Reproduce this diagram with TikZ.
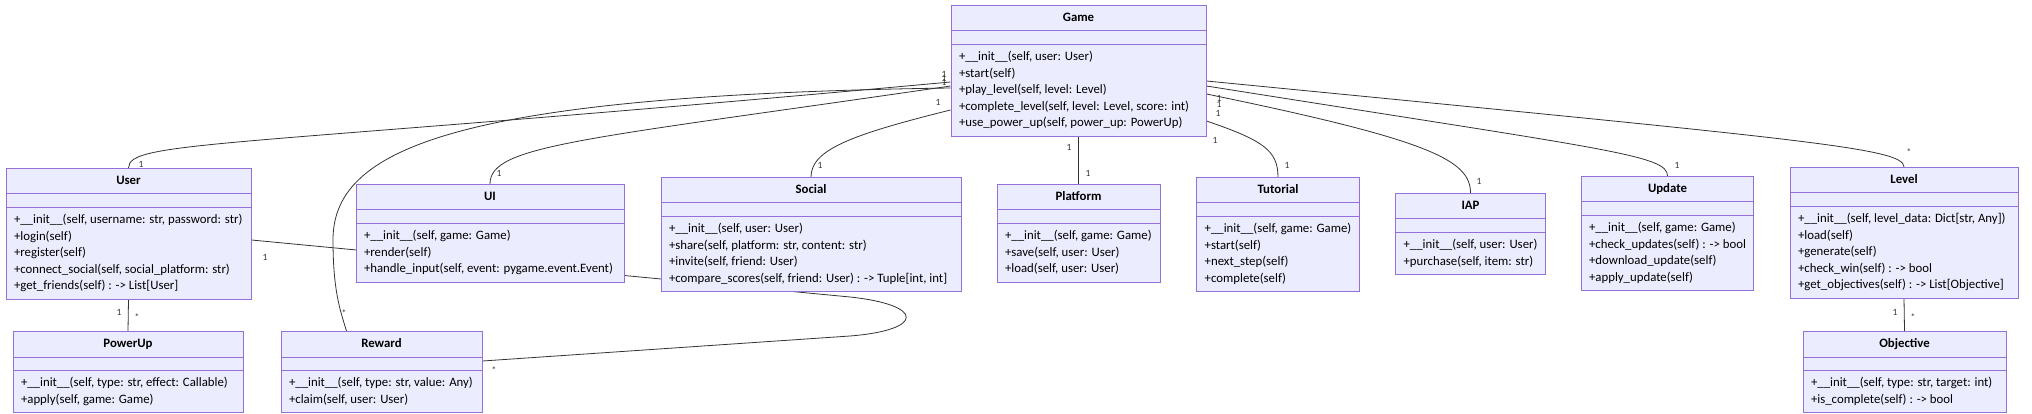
\documentclass[tikz,border=0pt]{standalone}
\usepackage{fontspec}
\setmainfont{Carlito}
\usetikzlibrary{shapes.multipart, backgrounds, calc}

\definecolor{classfill}{HTML}{ECECFF}
\definecolor{classedge}{HTML}{9370DB}
\definecolor{linkgray}{HTML}{333333}

\newcommand{\ops}[1]{\begin{tabular}{@{}l@{}}#1\end{tabular}}
\newcommand{\cname}[1]{\textbf{#1}\strut}

\tikzset{
  umlclass/.style={rectangle split, rectangle split parts=3,
    draw=classedge, fill=classfill, line width=1pt,
    inner xsep=8pt, inner ysep=4pt,
    rectangle split part align={center,left,left},
    rectangle split empty part height=3pt,
    font=\fontsize{12.8pt}{16.5pt}\selectfont, anchor=north},
  link/.style={draw=linkgray, line width=0.8pt},
  mult/.style={font=\fontsize{9.5pt}{10pt}\selectfont, text=linkgray, inner sep=0pt},
}

\begin{document}
\begin{tikzpicture}[x=1pt, y=-1pt]
\useasboundingbox (0,0) rectangle (2032,414);

% classes
\node[umlclass, minimum width=255] (game) at (1078.5,5)
  {\cname{Game}\nodepart{second}\nodepart{third}\ops{+\_\_init\_\_(self, user: User)\\+start(self)\\+play\_level(self, level: Level)\\+complete\_level(self, level: Level, score: int)\\+use\_power\_up(self, power\_up: PowerUp)}};
\node[umlclass, minimum width=245] (user) at (128.5,168)
  {\cname{User}\nodepart{second}\nodepart{third}\ops{+\_\_init\_\_(self, username: str, password: str)\\+login(self)\\+register(self)\\+connect\_social(self, social\_platform: str)\\+get\_friends(self) : -> List[User]}};
\node[umlclass, minimum width=268] (ui) at (490,184)
  {\cname{UI}\nodepart{second}\nodepart{third}\ops{+\_\_init\_\_(self, game: Game)\\+render(self)\\+handle\_input(self, event: pygame.event.Event)}};
\node[umlclass, minimum width=300] (social) at (811,177)
  {\cname{Social}\nodepart{second}\nodepart{third}\ops{+\_\_init\_\_(self, user: User)\\+share(self, platform: str, content: str)\\+invite(self, friend: User)\\+compare\_scores(self, friend: User) : -> Tuple[int, int]}};
\node[umlclass, minimum width=163] (platform) at (1078.5,184)
  {\cname{Platform}\nodepart{second}\nodepart{third}\ops{+\_\_init\_\_(self, game: Game)\\+save(self, user: User)\\+load(self, user: User)}};
\node[umlclass, minimum width=162] (tutorial) at (1278,177)
  {\cname{Tutorial}\nodepart{second}\nodepart{third}\ops{+\_\_init\_\_(self, game: Game)\\+start(self)\\+next\_step(self)\\+complete(self)}};
\node[umlclass, minimum width=149] (iap) at (1470.5,193)
  {\cname{IAP}\nodepart{second}\nodepart{third}\ops{+\_\_init\_\_(self, user: User)\\+purchase(self, item: str)}};
\node[umlclass, minimum width=171] (update) at (1667.5,176)
  {\cname{Update}\nodepart{second}\nodepart{third}\ops{+\_\_init\_\_(self, game: Game)\\+check\_updates(self) : -> bool\\+download\_update(self)\\+apply\_update(self)}};
\node[umlclass, minimum width=228] (level) at (1904,167)
  {\cname{Level}\nodepart{second}\nodepart{third}\ops{+\_\_init\_\_(self, level\_data: Dict[str, Any])\\+load(self)\\+generate(self)\\+check\_win(self) : -> bool\\+get\_objectives(self) : -> List[Objective]}};
\node[umlclass, minimum width=230] (powerup) at (128,331)
  {\cname{PowerUp}\nodepart{second}\nodepart{third}\ops{+\_\_init\_\_(self, type: str, effect: Callable)\\+apply(self, game: Game)}};
\node[umlclass, minimum width=201] (reward) at (381.5,331)
  {\cname{Reward}\nodepart{second}\nodepart{third}\ops{+\_\_init\_\_(self, type: str, value: Any)\\+claim(self, user: User)}};
\node[umlclass, minimum width=203] (objective) at (1904.5,331)
  {\cname{Objective}\nodepart{second}\nodepart{third}\ops{+\_\_init\_\_(self, type: str, target: int)\\+is\_complete(self) : -> bool}};

% associations
\begin{scope}[on background layer]
  \draw[link] ($(game.north west)+(0,77)$) .. controls (230,148) and (128.5,140) .. (user.north);
  \draw[link] ($(game.north west)+(0,81)$) .. controls (580,140) and (490,145) .. (ui.north);
  \draw[link] ($(game.north west)+(0,83)$) .. controls (450,95) and (333,150) .. (333,240)
    .. controls (333,290) and (340,310) .. ($(reward.north)+(-35,0)$);
  \draw[link] ($(game.north west)+(0,105)$) .. controls (850,135) and (811,150) .. (social.north);
  \draw[link] (game.south) -- (platform.north);
  \draw[link] ($(game.north east)+(0,116)$) .. controls (1262,140) and (1278,150) .. (tutorial.north);
  \draw[link] ($(game.north east)+(0,89)$) .. controls (1430,140) and (1470.5,160) .. (iap.north);
  \draw[link] ($(game.north east)+(0,81)$) .. controls (1610,150) and (1667.5,155) .. (update.north);
  \draw[link] ($(game.north east)+(0,76)$) .. controls (1810,140) and (1904,148) .. (level.north);
  \draw[link] ($(user.north east)+(0,72)$) -- (850,297) .. controls (925,305) and (925,330) .. (850,336) -- ($(reward.north east)+(0,30)$);
  \draw[link] (user.south) -- (powerup.north);
  \draw[link] (level.south) -- (objective.north);
\end{scope}

% multiplicities
\node[mult] (m1) at (944,74) {1};
\node[mult] (m2) at (944,78) {1};
\node[mult] (m3) at (944,82) {1};
\node[mult] (m4) at (938,102) {1};
\node[mult] (m5) at (141,164) {1};
\node[mult] (m6) at (499,173) {1};
\node[mult] (m7) at (820,165) {1};
\node[mult] (m8) at (344,313) {*};
\node[mult] (m9) at (1069,147) {1};
\node[mult] (m10) at (1088,173) {1};
\node[mult] (m11) at (1219,98) {1};
\node[mult] (m12) at (1219,104) {1};
\node[mult] (m13) at (1218,113) {1};
\node[mult] (m14) at (1215,140) {1};
\node[mult] (m15) at (1287,165) {1};
\node[mult] (m16) at (1479,181) {1};
\node[mult] (m17) at (1677,165) {1};
\node[mult] (m18) at (1909,152) {*};
\node[mult] (m19) at (265,257) {1};
\node[mult] (m20) at (494,370) {*};
\node[mult] (m21) at (119,312) {1};
\node[mult] (m22) at (137,317) {*};
\node[mult] (m23) at (1895,312) {1};
\node[mult] (m24) at (1913,317) {*};
\end{tikzpicture}
\end{document}
